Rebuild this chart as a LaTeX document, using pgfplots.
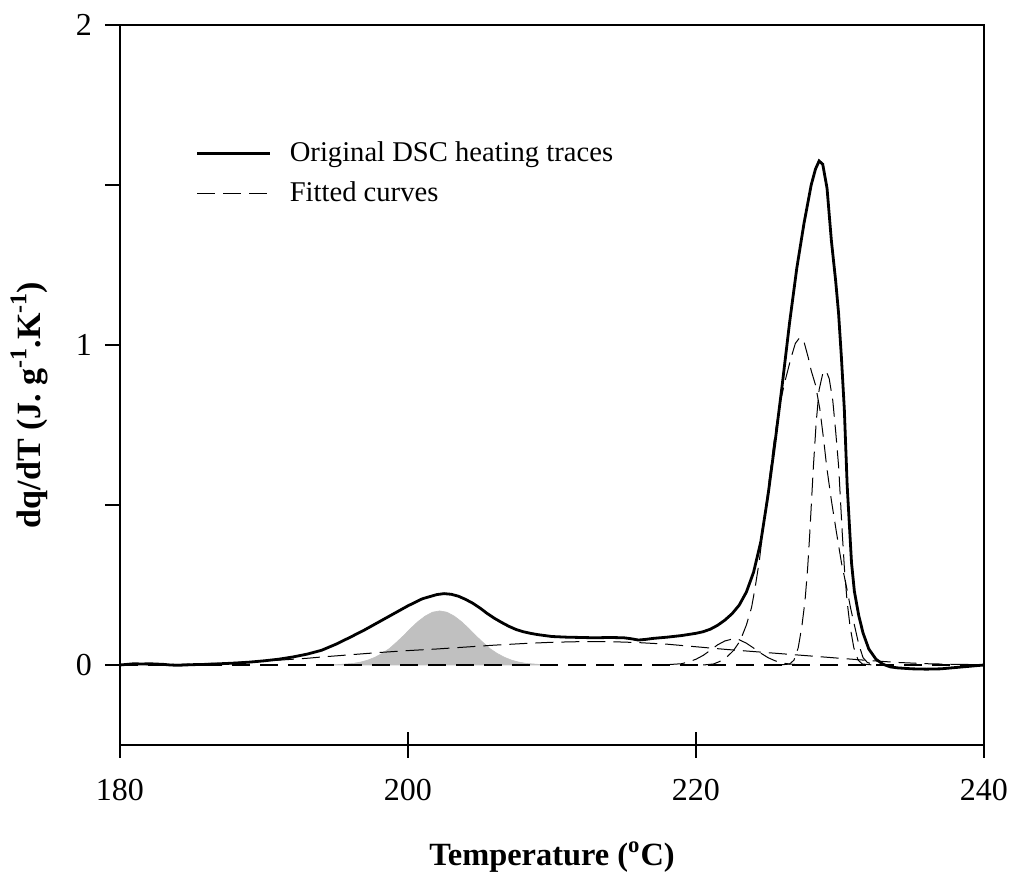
\documentclass[border=0pt]{standalone}
\usepackage{fontspec}
\setmainfont{Liberation Serif}
\usepackage{pgfplots}
\pgfplotsset{compat=1.18}
\definecolor{fillgray}{RGB}{192,192,192}
\newcommand{\sups}[1]{\raisebox{0.42em}{\fontsize{12}{12}\selectfont #1}}
\begin{document}
\begin{tikzpicture}
% overlay axis: long centred x ticks only
\begin{axis}[
  at={(0,0)}, anchor=south west,
  scale only axis, width=432pt, height=360pt,
  xmin=180, xmax=240, ymin=-0.25, ymax=2,
  xtick={180,200,220,240}, xticklabels={}, ytick=\empty,
  xtick pos=bottom, xtick align=center, major tick length=13pt,
  axis line style={draw=none},
  tick style={line width=0.6pt, black},
]
\end{axis}
\begin{axis}[
  at={(0,0)}, anchor=south west,
  scale only axis, width=432pt, height=360pt,
  xmin=180, xmax=240, ymin=-0.25, ymax=2,
  xtick={180,200,220,240},
  ytick={0,0.5,1,1.5,2}, yticklabels={0,,1,,2},
  xtick pos=bottom, ytick pos=left,
  xtick align=center, ytick align=outside,
  major tick length=7.5pt,
  axis line style={line width=0.6pt},
  tick style={line width=0.6pt, black},
  /pgf/number format/assume math mode=true,
  ticklabel style={font=\fontsize{16}{19}\selectfont},
  xticklabel style={yshift=-10pt},
  yticklabel style={xshift=-3pt},
  xlabel={Temperature (\textsuperscript{o}C)},
  ylabel={dq/dT (J. g\sups{-1}.K\sups{-1})},
  xlabel style={at={(axis description cs:0.5,-0.156)}, anchor=center, font=\fontsize{16.2}{19}\selectfont\bfseries},
  ylabel style={at={(axis description cs:-0.105,0.472)}, anchor=center, font=\fontsize{17}{19}\selectfont\bfseries},
  legend style={draw=none, fill=none, inner sep=0pt, outer sep=0pt,
    at={(axis description cs:0.088,0.843)}, anchor=north west,
    font=\fontsize{14.3}{17}\selectfont, row sep=4.5pt, column sep=7pt,
    cells={anchor=west}},
  legend image code/.code={\draw[#1] (0pt,0pt) -- (36.5pt,0pt);},
  clip=true,
]
% grey filled peak
\addplot[fill=fillgray, draw=fillgray, line width=0.3pt, forget plot] coordinates {
(194.2,0.0003) (195.2,0.0015) (196.2,0.005) (196.7,0.009) (197.2,0.015) (197.7,0.024)
(198.2,0.036) (198.7,0.051) (199.2,0.071) (199.7,0.092) (200.2,0.115) (200.7,0.136)
(201.2,0.153) (201.7,0.165) (202.2,0.169) (202.7,0.165) (203.2,0.153) (203.7,0.136)
(204.2,0.115) (204.7,0.092) (205.2,0.071) (205.7,0.051) (206.2,0.036) (206.7,0.024)
(207.2,0.015) (207.7,0.009) (208.2,0.005) (209.2,0.0015) (210.2,0.0003)
} \closedcycle;
% zero baseline
\addplot[line width=1pt, dash pattern=on 9pt off 5pt, forget plot] coordinates {(180,0) (240,0)};
% broad fitted curve
\addplot[line width=0.5pt, dash pattern=on 9pt off 4pt, forget plot] coordinates {
(180,0.000) (183,0.001) (185,0.003) (187,0.006) (189,0.010) (191,0.015) (193,0.021)
(194,0.025) (196,0.032) (198,0.039) (200,0.045) (202,0.050) (204,0.056) (206,0.062)
(208,0.067) (210,0.071) (212,0.073) (214,0.073) (216,0.070) (218,0.065) (220,0.057)
(222,0.049) (224,0.042) (226,0.035) (228,0.028) (230,0.021) (232,0.014) (234,0.008)
(236,0.004) (238,0.002) (240,0.001)
};
% small fitted curve
\addplot[line width=0.5pt, dash pattern=on 9pt off 4pt, forget plot] coordinates {
(218.0,0.001) (219.0,0.004) (219.5,0.010) (220.0,0.018) (220.5,0.030) (221.0,0.046)
(221.5,0.063) (222.0,0.075) (222.6,0.082) (223.0,0.079) (223.5,0.068) (224.0,0.053)
(224.5,0.037) (225.0,0.023) (225.5,0.013) (226.0,0.006) (226.5,0.003) (227.0,0.001)
};
% big fitted curve
\addplot[line width=0.5pt, dash pattern=on 9pt off 4pt, forget plot] coordinates {
(220.5,0.000) (221.2,0.003) (221.6,0.010) (222.1,0.023) (222.6,0.045) (223.06,0.075)
(223.5,0.125) (223.86,0.180) (224.1,0.240) (224.4,0.326) (224.65,0.420) (224.9,0.513)
(225.2,0.620) (225.49,0.723) (225.85,0.820) (226.2,0.890) (226.6,0.960) (226.9,1.005)
(227.2,1.023) (227.5,1.010) (227.8,0.960) (228.0,0.920) (228.3,0.875) (228.6,0.800)
(228.85,0.710) (229.08,0.618) (229.4,0.515) (229.77,0.410) (230.1,0.320) (230.46,0.242)
(230.75,0.175) (231.04,0.117) (231.3,0.065) (231.6,0.023) (231.9,0.008) (232.3,0.002)
(233.0,0.000)
};
% narrow fitted curve
\addplot[line width=0.5pt, dash pattern=on 9pt off 4pt, forget plot] coordinates {
(225.8,0.000) (226.5,0.003) (226.8,0.015) (227.1,0.054) (227.35,0.120) (227.57,0.200)
(227.75,0.300) (227.9,0.410) (228.15,0.618) (228.35,0.760) (228.55,0.860) (228.8,0.910)
(229.03,0.920) (229.25,0.895) (229.5,0.826) (229.7,0.730) (229.91,0.618) (230.16,0.410)
(230.31,0.300) (230.49,0.200) (230.7,0.120) (230.96,0.054) (231.26,0.015) (231.56,0.003)
(232.3,0.000)
};
% original DSC trace
\addplot[line width=1.4pt, forget plot] coordinates {
(180.0,0.000) (180.5,0.002) (181.0,0.004) (181.5,0.003) (182.0,0.004) (182.5,0.003)
(183.0,0.002) (183.5,0.000) (184.0,-0.001) (184.5,0.000) (185.0,0.001) (186.0,0.002)
(187.0,0.004) (188.0,0.006) (189.0,0.009) (190.0,0.013) (191.0,0.018) (192.0,0.025)
(193.0,0.034) (194.0,0.046) (195.0,0.065) (196.0,0.087) (197.0,0.110) (198.0,0.135)
(199.0,0.160) (200.0,0.185) (201.0,0.207) (202.0,0.220) (202.5,0.223) (203.0,0.221)
(203.5,0.215) (204.0,0.205) (204.5,0.193) (205.0,0.178) (205.5,0.161) (206.0,0.146)
(206.5,0.133) (207.0,0.121) (207.5,0.111) (208.0,0.104) (208.5,0.099) (209.0,0.095)
(210.0,0.089) (211.0,0.087) (212.0,0.086) (213.0,0.085) (214.0,0.086) (215.0,0.085)
(215.5,0.082) (216.0,0.078) (216.5,0.080) (217.0,0.083) (218.0,0.087) (219.0,0.092)
(220.0,0.099) (220.5,0.104) (221.0,0.112) (221.5,0.124) (222.0,0.140) (222.5,0.160)
(223.0,0.187) (223.5,0.228) (224.0,0.290) (224.5,0.385) (225.0,0.530) (225.5,0.700)
(226.0,0.880) (226.5,1.070) (227.0,1.240) (227.5,1.380) (228.0,1.500) (228.3,1.550)
(228.55,1.575) (228.8,1.565) (229.1,1.490) (229.4,1.327) (229.7,1.200) (229.9,1.100)
(230.1,0.960) (230.3,0.800) (230.5,0.560) (230.8,0.320) (231.0,0.230) (231.3,0.155)
(231.6,0.100) (232.0,0.050) (232.5,0.018) (233.0,0.002) (233.5,-0.006) (234.0,-0.009)
(235.0,-0.012) (236.0,-0.013) (237.0,-0.012) (238.0,-0.008) (239.0,-0.004) (240.0,0.000)
};
\addlegendimage{line width=1.4pt}
\addlegendentry{Original DSC heating traces}
\addlegendimage{line width=0.5pt, dash pattern=on 9pt off 4pt}
\addlegendentry{Fitted curves}
\end{axis}
\pgfresetboundingbox
\path[use as bounding box] (-60pt,-65.5pt) rectangle (445.5pt,372.5pt);
\end{tikzpicture}
\end{document}
